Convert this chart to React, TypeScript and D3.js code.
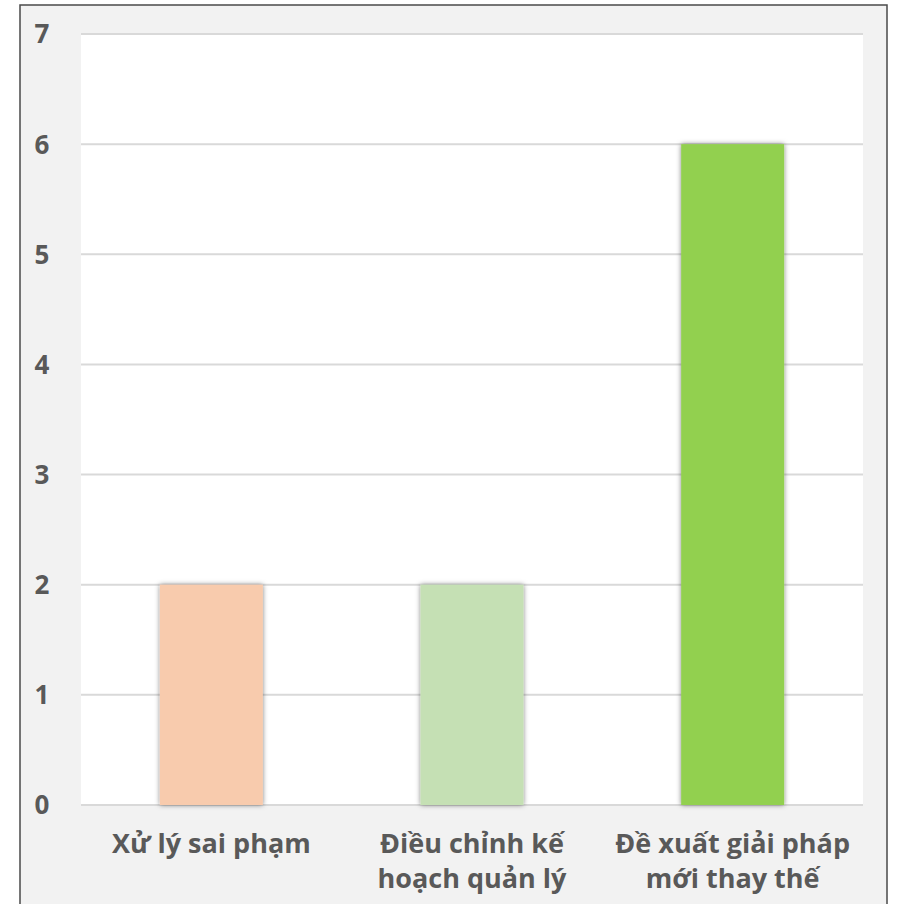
import React from "react";
import * as d3 from "d3";

// Categories and their counts
const categories: string[][] = [
  ["Xử lý sai phạm"],
  ["Điều chỉnh kế", "hoạch quản lý"],
  ["Đề xuất giải pháp", "mới thay thế"],
];
const values: number[] = [2, 2, 6];
const barColors: string[] = ["#f8cbad", "#c5e0b4", "#92d050"];
const yTicks: number[] = [0, 1, 2, 3, 4, 5, 6, 7];

const W = 902;
const H = 904;
const plot = { left: 81, right: 863, top: 34, bottom: 805 };
const font = "'Open Sans', Lato, sans-serif";
const textColor = "#595959";

export default function App() {
  const x = d3
    .scaleBand<number>()
    .domain(d3.range(values.length))
    .range([plot.left, plot.right])
    .paddingInner(0.605)
    .paddingOuter(0.3025);
  const y = d3.scaleLinear().domain([0, 7]).range([plot.bottom, plot.top]);

  return (
    <svg
      width={W}
      height={H}
      style={{ position: "fixed", left: 0, top: 0, display: "block" }}
    >
      <defs>
        <filter id="barShadow" x="-20%" y="-5%" width="140%" height="110%">
          <feDropShadow dx="0" dy="0" stdDeviation="2.4" floodColor="#000" floodOpacity="0.5" />
        </filter>
      </defs>
      <rect x={0} y={0} width={W} height={H} fill="#ffffff" />
      {/* chart frame */}
      <rect x={20} y={5} width={867} height={H + 10} fill="#f2f2f2" stroke="#4a4a4a" strokeWidth={1.5} />
      {/* plot area */}
      <rect x={plot.left} y={plot.top} width={plot.right - plot.left} height={plot.bottom - plot.top} fill="#ffffff" />
      {yTicks.map((t) => (
        <line
          key={t}
          x1={plot.left}
          x2={plot.right}
          y1={y(t)}
          y2={y(t)}
          stroke="#d9d9d9"
          strokeWidth={2}
        />
      ))}
      {yTicks.map((t) => (
        <text
          key={"l" + t}
          x={42}
          y={y(t)}
          dy="0.36em"
          textAnchor="middle"
          fontFamily={font}
          fontWeight={700}
          fontSize={26}
          fill={textColor}
        >
          {t}
        </text>
      ))}
      {values.map((v, i) => (
        <rect
          key={"b" + i}
          x={x(i)!}
          y={y(v)}
          width={x.bandwidth()}
          height={y(0) - y(v)}
          fill={barColors[i]}
          filter="url(#barShadow)"
        />
      ))}
      {categories.map((lines, i) => (
        <text
          key={"c" + i}
          x={x(i)! + x.bandwidth() / 2}
          y={853}
          textAnchor="middle"
          fontFamily={font}
          fontWeight={700}
          fontSize={27}
          fill={textColor}
        >
          {lines.map((ln, j) => (
            <tspan key={j} x={x(i)! + x.bandwidth() / 2} dy={j === 0 ? 0 : 35}>
              {ln}
            </tspan>
          ))}
        </text>
      ))}
    </svg>
  );
}
